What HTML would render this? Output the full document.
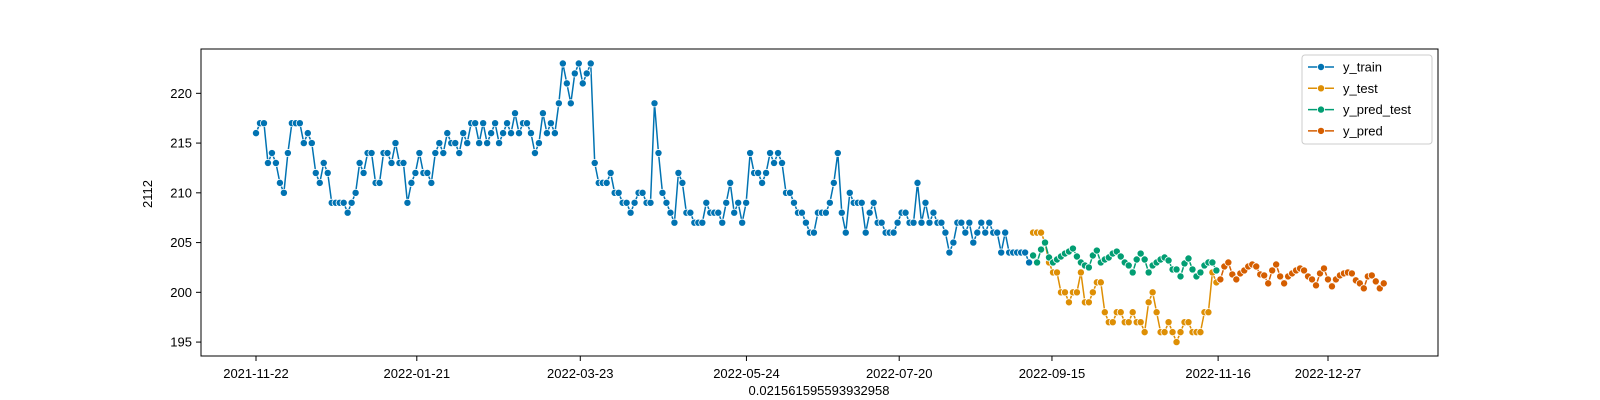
<!DOCTYPE html>
<html><head><meta charset="utf-8"><style>
html,body{margin:0;padding:0;background:#fff;}
svg{display:block;font-family:"Liberation Sans","DejaVu Sans",sans-serif;}
</style></head><body>
<svg id="chart" width="1600" height="400" viewBox="0 0 1600 400" xmlns="http://www.w3.org/2000/svg">
<rect x="201" y="49" width="1237" height="307" fill="#fff" stroke="#000" stroke-width="1"/>
<g id="xt"></g>
<g id="yt"></g>
<g id="series"></g>
<text x="819" y="395" font-size="13" text-anchor="middle" fill="#000">0.021561595593932958</text>
<text x="0" y="0" font-size="13" text-anchor="middle" fill="#000" transform="translate(152,194) rotate(-90)">2112</text>
<g id="legend"></g>
</svg>
<script>
const trainValues=[216,217,217,213,214,213,211,210,214,217,217,217,215,216,215,212,211,213,212,209,209,209,209,208,209,210,213,212,214,214,211,211,214,214,213,215,213,213,209,211,212,214,212,212,211,214,215,
214,216,215,215,214,216,215,217,217,215,217,215,216,217,215,216,217,216,218,216,217,217,216,214,215,218,216,217,216,219,223,221,219,222,223,221,222,223,213,211,211,211,212,210,210,
209,209,208,209,210,210,209,209,219,214,210,209,208,207,212,211,208,208,207,207,207,209,208,208,208,207,209,211,208,209,207,209,214,212,212,211,212,214,213,214,213,210,210,209,208,208,207,206,206,208,
208,208,209,211,214,208,206,210,209,209,209,206,208,209,207,207,206,206,206,207,208,208,207,207,211,207,209,207,208,207,207,206,204,205,207,207,206,207,205,206,207,206,207,206,206,204,206,204,204,204,204,204,203];
const testValues=[206,206,206,205,203,202,202,200,200,199,200,200,202,199,199,200,201,201,198,197,197,198,198,197,197,198,197,197,196,199,200,198,196,196,197,196,195,196,197,197,196,196,196,198,198,202,201];
const predTestValues=[203.7,203.0,204.3,205.0,203.5,203.0,203.3,203.6,203.9,204.1,204.4,203.6,203.0,202.7,202.5,203.7,204.2,203.0,203.3,203.5,203.9,204.1,203.6,203.0,202.7,202.0,203.3,203.9,203.3,202.0,202.7,203.0,203.3,203.5,203.2,202.3,202.3,201.6,202.9,203.4,202.3,201.6,202.0,202.7,203.0,203.0,202.2];
const predValues=[201.3,202.6,203.0,201.8,201.3,201.9,202.2,202.6,202.8,202.6,201.8,201.7,200.9,202.2,202.8,201.6,200.9,201.6,201.9,202.2,202.4,202.2,201.6,201.3,200.7,201.9,202.4,201.3,200.6,201.3,201.7,201.9,202.0,201.9,201.2,200.9,200.4,201.6,201.7,201.1,200.4,200.9];
const xTickLabels=["2021-11-22","2022-01-21","2022-03-23","2022-05-24","2022-07-20","2022-09-15","2022-11-16","2022-12-27"];
const xTickDays=[0,60,121,183,240,297,359,400];
const yTickValues=[195,200,205,210,215,220];
const seriesNames=["y_train","y_test","y_pred_test","y_pred"];
const seriesColors=["#0173b2","#de8f05","#029e73","#d55e00"];

const NS="http://www.w3.org/2000/svg";
function xIdx(i){return 256+i*3.985;}
function xDay(d){return 256+d*2.68;}
function yVal(v){return 217.7-(v-207.5)*9.95;}
function mk(tag,attrs,parent){const e=document.createElementNS(NS,tag);for(const k in attrs)e.setAttribute(k,attrs[k]);parent.appendChild(e);return e;}

const xt=document.getElementById('xt');
xTickDays.forEach((d,k)=>{
  const x=xDay(d);
  const t=mk('line',{x1:x,x2:x,y1:356,y2:361,stroke:'#000','stroke-width':1},xt);
  
  
  const l=mk('text',{x:x,y:378,'font-size':13,'text-anchor':'middle',fill:'#000'},xt);
  l.textContent=xTickLabels[k];
  
  
});
const yt=document.getElementById('yt');
yTickValues.forEach(v=>{
  const y=yVal(v);
  const t=mk('line',{x1:196,x2:201,y1:y,y2:y,stroke:'#000','stroke-width':1},yt);
  
  
  const l=mk('text',{x:192,y:y+4.5,'font-size':13,'text-anchor':'end',fill:'#000'},yt);
  l.textContent=v;
  
  
});

const sg=document.getElementById('series');
function drawSeries(vals,start,color,name){
  const g=mk('g',{},sg);
  
  
  const pts=vals.map((v,i)=>xIdx(start+i).toFixed(2)+','+yVal(v).toFixed(2)).join(' ');
  const pl=mk('polyline',{points:pts,fill:'none',stroke:color,'stroke-width':1.5,'stroke-linejoin':'round'},g);
  
  
  vals.forEach((v,i)=>{
    const c=mk('circle',{cx:xIdx(start+i),cy:yVal(v),r:3.6,fill:color,stroke:'#fff','stroke-width':0.8},g);
    
    
  });
}
const nTrain=trainValues.length;
drawSeries(trainValues,0,seriesColors[0],'y-train');
drawSeries(testValues,nTrain,seriesColors[1],'y-test');
drawSeries(predTestValues,nTrain,seriesColors[2],'y-pred-test');
drawSeries(predValues,nTrain+testValues.length,seriesColors[3],'y-pred');

const lg=document.getElementById('legend');
const box=mk('rect',{x:1302,y:55,width:130,height:89,rx:3,fill:'#fff','fill-opacity':0.8,stroke:'#ccc','stroke-width':1},lg);


seriesNames.forEach((n,k)=>{
  const y=67+k*21.3;
  const g=mk('g',{},lg);
  
  
  mk('line',{x1:1308,x2:1334,y1:y,y2:y,stroke:seriesColors[k],'stroke-width':1.5},g);
  mk('circle',{cx:1321,cy:y,r:3.6,fill:seriesColors[k],stroke:'#fff','stroke-width':0.8},g);
  const t=mk('text',{x:1343,y:y+4.5,'font-size':13,fill:'#000'},g);
  t.textContent=n;
});
</script>
</body></html>
